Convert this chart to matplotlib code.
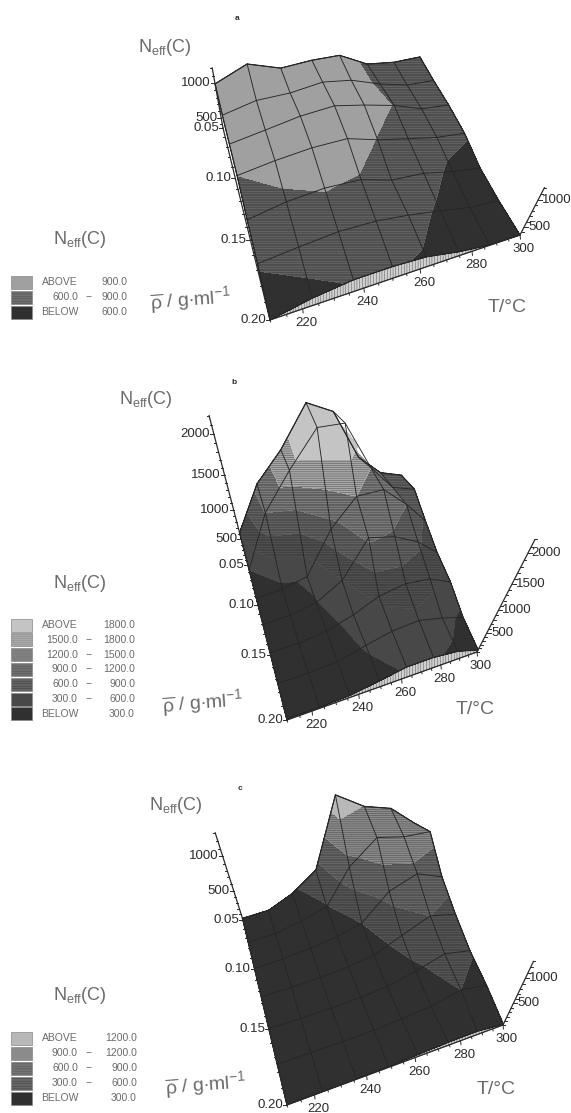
import numpy as np
import matplotlib
matplotlib.use("Agg")
import matplotlib.pyplot as plt

plt.rcParams['font.family'] = ['Liberation Sans', 'DejaVu Sans']
plt.rcParams['mathtext.fontset'] = 'custom'
plt.rcParams['mathtext.rm'] = 'Liberation Sans'
plt.rcParams['hatch.linewidth'] = 0.25
plt.rcParams['hatch.color'] = '#2a2a2a'

# grid of the measured surface
T_grid = [210, 223, 236, 249, 261, 274, 287, 300]
rho_grid = [0.05, 0.075, 0.10, 0.125, 0.15, 0.175, 0.20]

N_a = [[990, 1160, 1020, 1040, 1030, 840, 790, 790],
       [910, 1010, 1010, 1060, 1000, 860, 760, 740],
       [900, 980, 1060, 1090, 1000, 890, 740, 700],
       [900, 980, 1030, 1030, 890, 780, 680, 630],
       [740, 860, 910, 880, 720, 680, 560, 480],
       [640, 720, 780, 760, 680, 570, 450, 400],
       [340, 520, 620, 620, 580, 440, 350, 340]]

N_b = [[620, 1300, 1670, 2130, 1980, 1375, 1100, 1000],
       [300, 1200, 1700, 2120, 2100, 1500, 1150, 1050],
       [150, 220, 350, 1100, 1500, 1500, 1200, 850],
       [100, 150, 280, 600, 1250, 1150, 950, 650],
       [80, 100, 200, 400, 650, 750, 700, 500],
       [60, 80, 130, 330, 480, 530, 400, 240],
       [40, 40, 70, 200, 330, 330, 250, 60]]

N_c = [[30, 60, 240, 510, 1400, 1190, 1090, 830],
       [20, 50, 150, 280, 800, 1100, 1020, 1000],
       [10, 40, 100, 180, 300, 700, 850, 700],
       [10, 20, 50, 100, 180, 400, 600, 500],
       [10, 15, 30, 60, 110, 250, 420, 320],
       [10, 10, 20, 40, 80, 150, 300, 200],
       [10, 10, 10, 20, 60, 90, 100, 20]]

levels_a = [0, 600, 900, 5000]
levels_b = [0, 300, 600, 900, 1200, 1500, 1800, 5000]
levels_c = [0, 300, 600, 900, 1200, 5000]

colors_a = ['#303030', '#626262', '#a0a0a0']
colors_b = ['#303030', '#484848', '#505050', '#626262', '#7c7c7c', '#a8a8a8', '#c4c4c4']
colors_c = ['#303030', '#555555', '#686868', '#8c8c8c', '#b8b8b8']

hatch_a = ['', '----------', '']
hatch_b = ['', '', '----------', '----------', '----------', '--------', '']
hatch_c = ['', '----------', '----------', '--------', '']

legend_a = [('ABOVE', '900.0', False), ('600.0', '900.0', True), ('BELOW', '600.0', False)]
legend_b = [('ABOVE', '1800.0', False), ('1500.0', '1800.0', True), ('1200.0', '1500.0', True),
            ('900.0', '1200.0', True), ('600.0', '900.0', True), ('300.0', '600.0', True),
            ('BELOW', '300.0', False)]
legend_c = [('ABOVE', '1200.0', False), ('900.0', '1200.0', True), ('600.0', '900.0', True),
            ('300.0', '600.0', True), ('BELOW', '300.0', False)]

T_ticks = [220, 240, 260, 280, 300]
rho_ticks = [0.05, 0.10, 0.15, 0.20]

# corners of the floor in pixels, nadir point, camera height
panels = [
    dict(N=N_a, levels=levels_a, colors=colors_a, hatches=hatch_a, legend=legend_a, letter='a', letter_xy=(237, 18),
         corners=[(223, 128), (414, 89), (520, 235), (270, 320)], V=(314, 634), h=8100, floor=340,
         z_ticks=[500, 1000], z_top=1200, z_step=100,
         title_xy=(165, 47), rho_xy=(191, 300), T_xy=(507, 308),
         legend_y=282, legend_dy=15, legend_right=127, legend_title_xy=(80, 240)),
    dict(N=N_b, levels=levels_b, colors=colors_b, hatches=hatch_b, legend=legend_b, letter='b', letter_xy=(234, 383),
         corners=[(248, 565), (393, 535), (477, 652), (287, 720)], V=(340, 918), h=7400, floor=0,
         z_ticks=[500, 1000, 1500, 2000], z_top=2200, z_step=100,
         title_xy=(146, 400), rho_xy=(203, 703), T_xy=(475, 710),
         legend_y=625, legend_dy=14.8, legend_right=135, legend_title_xy=(80, 583)),
    dict(N=N_c, levels=levels_c, colors=colors_c, hatches=hatch_c, legend=legend_c, letter='c', letter_xy=(240, 788),
         corners=[(243, 920), (409, 880), (503, 1025), (287, 1105)], V=(367, 1309), h=7100, floor=0,
         z_ticks=[500, 1000], z_top=1300, z_step=100,
         title_xy=(176, 806), rho_xy=(206, 1085), T_xy=(496, 1090),
         legend_y=1038, legend_dy=15, legend_right=137, legend_title_xy=(80, 995)),
]

INK = '#2b2b2b'
LINE = '#262626'
GREY = '#6a6a6a'


def square_to_quad(q):
    A, b = [], []
    for (u, v), (x, y) in zip([(0, 0), (1, 0), (1, 1), (0, 1)], q):
        A.append([u, v, 1, 0, 0, 0, -u*x, -v*x]); b.append(x)
        A.append([0, 0, 0, u, v, 1, -u*y, -v*y]); b.append(y)
    return np.append(np.linalg.solve(np.array(A, float), np.array(b, float)), 1).reshape(3, 3)


def project(T, rho, N, p):
    u = (np.asarray(T, float) - 210) / 90
    v = (np.asarray(rho, float) - 0.05) / 0.15
    H = p['H']
    w = H[2, 0]*u + H[2, 1]*v + H[2, 2]
    x = (H[0, 0]*u + H[0, 1]*v + H[0, 2]) / w
    y = (H[1, 0]*u + H[1, 1]*v + H[1, 2]) / w
    s = 1 / (1 - (np.asarray(N, float) - p['floor']) / p['h'])
    return p['V'][0] + (x - p['V'][0])*s, p['V'][1] + (y - p['V'][1])*s


fig = plt.figure(figsize=(5.71, 11.13), dpi=100)
ax = fig.add_axes([0, 0, 1, 1])
ax.set_xlim(0, 571)
ax.set_ylim(1113, 0)
ax.axis('off')

neff = r'$\mathregular{N_{eff}(C)}$'

for p in panels:
    p['H'] = square_to_quad(p['corners'])
    N = np.array(p['N'], float)
    TT, RR = np.meshgrid(T_grid, rho_grid)
    X, Y = project(TT, RR, N, p)
    fl = p['floor']

    # front curtain between the surface and the floor
    fx, fy = project(np.array(T_grid), 0.20, N[-1], p)
    bx, by = project(np.array(T_grid), 0.20, fl, p)
    ax.fill(np.r_[fx, bx[::-1]], np.r_[fy, by[::-1]], facecolor='#cfcfcf', edgecolor=INK, lw=0.4,
            hatch='||||||', zorder=1)

    ax.contourf(X, Y, N, levels=p['levels'], colors=p['colors'], hatches=p['hatches'], zorder=2)

    for i in range(len(rho_grid)):
        ax.plot(X[i], Y[i], color=LINE, lw=0.65, zorder=3)
    for j in range(len(T_grid)):
        ax.plot(X[:, j], Y[:, j], color=LINE, lw=0.65, zorder=3)
    ox = np.r_[X[0], X[:, -1], X[-1][::-1], X[:, 0][::-1]]
    oy = np.r_[Y[0], Y[:, -1], Y[-1][::-1], Y[:, 0][::-1]]
    ax.plot(ox, oy, color=LINE, lw=0.8, zorder=3)

    # rho axis
    r = np.arange(0.05, 0.2001, 0.01)
    x, y = project(210, r, fl, p)
    ax.plot(x, y, color=INK, lw=0.9, zorder=4)
    for ri, xi, yi in zip(r, x, y):
        major = any(abs(ri - t) < 1e-6 for t in rho_ticks)
        ax.plot([xi - (4 if major else 2), xi], [yi, yi], color=INK, lw=0.7, zorder=4)
        if major:
            ax.text(xi - 4, yi, '%.2f' % ri, ha='right', va='center', fontsize=9.5, color=INK)

    # temperature axis
    t = np.arange(210, 300.1, 5)
    x, y = project(t, 0.20, fl, p)
    ax.plot(x, y, color=INK, lw=0.9, zorder=4)
    for ti, xi, yi in zip(t, x, y):
        major = ti in T_ticks
        ax.plot([xi, xi + 0.5], [yi, yi + (4 if major else 2)], color=INK, lw=0.7, zorder=4)
        if major:
            ax.text(xi + 4, yi + 14, '%d' % ti, ha='center', va='center', fontsize=9.5, color=INK)

    # height axes, left and right
    first = p['z_step'] * np.ceil(fl / p['z_step'])
    nz = np.arange(first, p['z_top'] + 1, p['z_step'])
    for T0, rho0, side in [(210, 0.05, -1), (300, 0.20, 1)]:
        x, y = project(T0, rho0, np.r_[fl, nz], p)
        ax.plot(x, y, color=INK, lw=0.9, zorder=4)
        for ni, xi, yi in zip(nz, x[1:], y[1:]):
            major = ni in p['z_ticks']
            ax.plot([xi, xi + side*(4 if major else 2)], [yi, yi], color=INK, lw=0.7, zorder=4)
            if major:
                ax.text(xi + side*4, yi, '%d' % ni, ha='left' if side > 0 else 'right', va='center',
                        fontsize=9.5, color=INK)

    ax.text(p['letter_xy'][0], p['letter_xy'][1], p['letter'], ha='center', va='center', fontsize=6,
            fontweight='bold', color=INK)
    ax.text(p['title_xy'][0], p['title_xy'][1], neff, ha='center', va='center', fontsize=13, color=GREY)
    ax.text(p['legend_title_xy'][0], p['legend_title_xy'][1], neff, ha='center', va='center',
            fontsize=13, color=GREY)
    ax.text(p['rho_xy'][0], p['rho_xy'][1], r'$\mathregular{\overline{\rho}}$ / g$\cdot$ml$^{-1}$',
            ha='center', va='center', fontsize=14, color=GREY, rotation=4)
    ax.text(p['T_xy'][0], p['T_xy'][1], 'T/\u00b0C', ha='center', va='center', fontsize=14, color=GREY)

    # legend, top row is the highest level
    for k, (lo, hi, dash) in enumerate(p['legend']):
        yk = p['legend_y'] + k*p['legend_dy']
        col = p['colors'][::-1][k]
        hat = p['hatches'][::-1][k]
        ax.fill([11, 32, 32, 11], [yk - 6.5, yk - 6.5, yk + 6.5, yk + 6.5], facecolor=col, edgecolor='#888888',
                lw=0.5, hatch=hat if hat else None)
        ax.text(78, yk, lo, ha='right', va='center', fontsize=7.5, color=GREY)
        if dash:
            ax.text(88, yk, '\u2212', ha='center', va='center', fontsize=7.5, color=GREY)
        ax.text(p['legend_right'], yk, hi, ha='right', va='center', fontsize=7.5, color=GREY)

fig.savefig('out.png', dpi=100)
